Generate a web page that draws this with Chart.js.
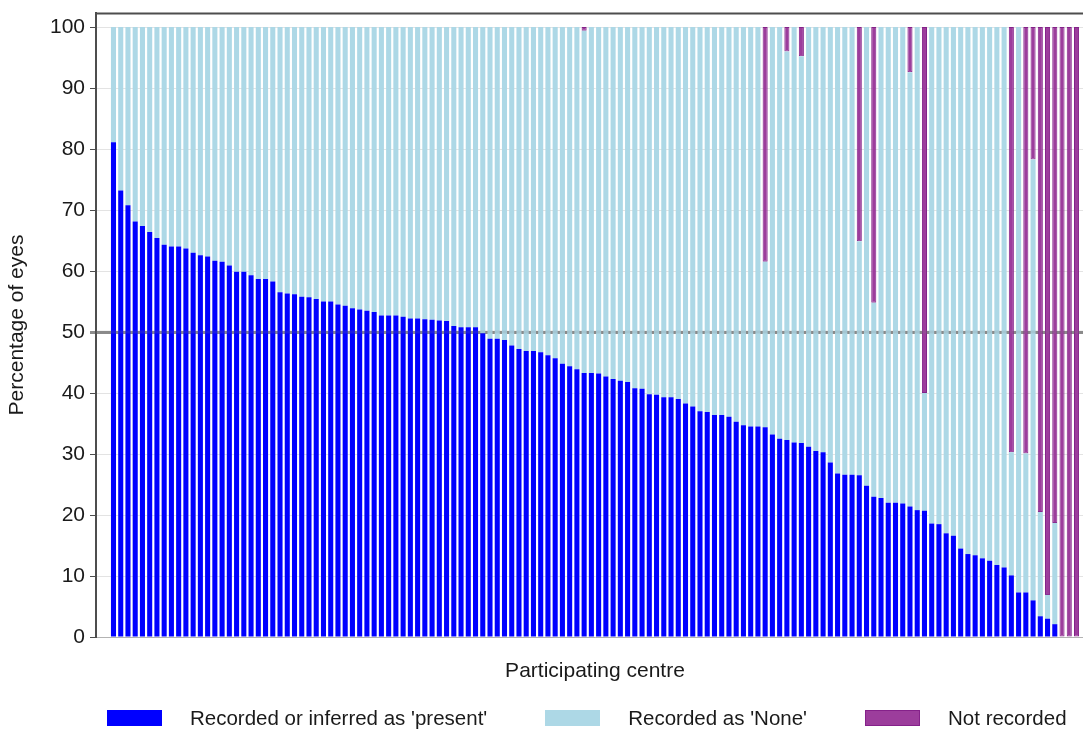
<!DOCTYPE html>
<html>
<head>
<meta charset="utf-8">
<title>Percentage of eyes by participating centre</title>
<script src="https://cdn.jsdelivr.net/npm/chart.js@4.4.0/dist/chart.umd.min.js"></script>
<style>
    html, body { margin: 0; padding: 0; background: #fff; overflow: hidden; }
    #wrap { position: relative; width: 1094px; height: 729px; }
    .legend {
        position: absolute; left: 107px; top: 706px;
        display: flex; align-items: center;
        font: 20.5px "Liberation Sans", Arial, sans-serif; color: #1a1a1a;
        white-space: nowrap;
    }
    .legend .item { display: flex; align-items: center; margin-right: 58px; }
    .legend .box { width: 55px; height: 16px; margin-right: 28px; box-sizing: border-box; }
</style>
</head>
<body>
<div id="wrap">
    <canvas id="chart"></canvas>
    <div class="legend" id="legend"></div>
</div>
<script>
// one bar per participating centre, sorted by share recorded as present
const centres = Array.from({ length: 134 }, (_, i) => i + 1)

const presentPct = [
    81.1, 73.2, 70.8, 68.1, 67.4, 66.4, 65.4, 64.3, 64.0, 64.0,
    63.7, 63.0, 62.6, 62.4, 61.7, 61.5, 60.9, 59.9, 59.9, 59.3,
    58.7, 58.7, 58.3, 56.5, 56.3, 56.2, 55.8, 55.7, 55.4, 55.0,
    55.0, 54.5, 54.3, 53.9, 53.7, 53.5, 53.3, 52.7, 52.7, 52.7,
    52.5, 52.2, 52.2, 52.1, 52.0, 51.9, 51.8, 51.0, 50.8, 50.8,
    50.8, 49.8, 48.9, 48.9, 48.7, 47.8, 47.2, 46.9, 46.9, 46.7,
    46.2, 45.7, 44.8, 44.4, 43.9, 43.3, 43.3, 43.2, 42.7, 42.3,
    42.0, 41.8, 40.8, 40.7, 39.8, 39.7, 39.3, 39.3, 39.0, 38.3,
    37.8, 37.0, 36.9, 36.4, 36.4, 36.1, 35.3, 34.7, 34.5, 34.5,
    34.4, 33.2, 32.5, 32.3, 31.9, 31.8, 31.2, 30.5, 30.3, 28.6,
    26.8, 26.6, 26.6, 26.5, 24.8, 23.0, 22.8, 22.0, 22.0, 21.9,
    21.4, 20.8, 20.7, 18.6, 18.5, 17.0, 16.6, 14.5, 13.6, 13.4,
    12.9, 12.5, 11.8, 11.4, 10.1, 7.3, 7.3, 6.0, 3.4, 3.0,
    2.1, 0, 0, 0
]

const nonePct = [
    18.9, 26.8, 29.2, 31.9, 32.6, 33.6, 34.6, 35.7, 36.0, 36.0,
    36.3, 37.0, 37.4, 37.6, 38.3, 38.5, 39.1, 40.1, 40.1, 40.7,
    41.3, 41.3, 41.7, 43.5, 43.7, 43.8, 44.2, 44.3, 44.6, 45.0,
    45.0, 45.5, 45.7, 46.1, 46.3, 46.5, 46.7, 47.3, 47.3, 47.3,
    47.5, 47.8, 47.8, 47.9, 48.0, 48.1, 48.2, 49.0, 49.2, 49.2,
    49.2, 50.2, 51.1, 51.1, 51.3, 52.2, 52.8, 53.1, 53.1, 53.3,
    53.8, 54.3, 55.2, 55.6, 56.1, 56.1, 56.7, 56.8, 57.3, 57.7,
    58.0, 58.2, 59.2, 59.3, 60.2, 60.3, 60.7, 60.7, 61.0, 61.7,
    62.2, 63.0, 63.1, 63.6, 63.6, 63.9, 64.7, 65.3, 65.5, 65.5,
    27.1, 66.8, 67.5, 63.7, 68.1, 63.4, 68.8, 69.5, 69.7, 71.4,
    73.2, 73.4, 73.4, 38.4, 75.2, 31.8, 77.2, 78.0, 78.0, 78.1,
    71.2, 79.2, 19.3, 81.4, 81.5, 83.0, 83.4, 85.5, 86.4, 86.6,
    87.1, 87.5, 88.2, 88.6, 20.2, 92.7, 22.8, 72.3, 17.1, 3.9,
    16.6, 0, 0, 0
]

const notRecordedPct = [
    null, null, null, null, null, null, null, null, null, null,
    null, null, null, null, null, null, null, null, null, null,
    null, null, null, null, null, null, null, null, null, null,
    null, null, null, null, null, null, null, null, null, null,
    null, null, null, null, null, null, null, null, null, null,
    null, null, null, null, null, null, null, null, null, null,
    null, null, null, null, null, 0.6, null, null, null, null,
    null, null, null, null, null, null, null, null, null, null,
    null, null, null, null, null, null, null, null, null, null,
    38.5, null, null, 4.0, null, 4.8, null, null, null, null,
    null, null, null, 35.1, null, 45.2, null, null, null, null,
    7.4, null, 60.0, null, null, null, null, null, null, null,
    null, null, null, null, 69.7, null, 69.9, 21.7, 79.5, 93.1,
    81.3, 100, 100, 100
]

const percentTicks = [0, 10, 20, 30, 40, 50, 60, 70, 80, 90, 100]

const textFont = { family: '"Liberation Sans", Arial, sans-serif', size: 21 }
const textColor = '#1a1a1a'
const axisColor = '#4d4d4d'
// empty space either side of the first and last centre, in bar slots
const edgePad = 2.415

const isHalfway = c => c.tick && c.tick.value === 50

// dark frame line along the top, and a faint 50% line laid over the bars
const frameLines = {
    id: 'frameLines',
    afterDatasetsDraw(chart) {
        const { ctx, chartArea, scales } = chart
        const y50 = scales.y.getPixelForValue(50)
        ctx.save()
        ctx.strokeStyle = 'rgba(128, 128, 128, 0.2)'
        ctx.lineWidth = 3
        ctx.beginPath()
        ctx.moveTo(chartArea.left, y50)
        ctx.lineTo(chartArea.right, y50)
        ctx.stroke()
        ctx.restore()
    },
    afterDraw(chart) {
        const { ctx, chartArea } = chart
        ctx.save()
        ctx.strokeStyle = axisColor
        ctx.lineWidth = 2
        ctx.beginPath()
        ctx.moveTo(chartArea.left - 1, chartArea.top + 0.5)
        ctx.lineTo(chartArea.right, chartArea.top + 0.5)
        ctx.stroke()
        ctx.restore()
    }
}

const chart = new Chart(document.getElementById('chart'), {
    type: 'bar',
    data: {
        labels: centres,
        datasets: [{
            label: "Recorded or inferred as 'present'",
            data: presentPct,
            backgroundColor: '#0000FF',
            borderWidth: 0
        }, {
            label: "Recorded as 'None'",
            data: nonePct,
            backgroundColor: '#ADD8E6',
            borderWidth: 0
        }, {
            label: 'Not recorded',
            data: notRecordedPct,
            backgroundColor: '#9C3D9C',
            borderColor: '#85218A',
            borderWidth: 1,
            borderSkipped: false
        }]
    },
    options: {
        responsive: true,
        maintainAspectRatio: false,
        animation: false,
        layout: { padding: { top: 13, left: 0, right: 0, bottom: 0 } },
        datasets: {
            bar: { barPercentage: 0.7, categoryPercentage: 1.0 }
        },
        plugins: {
            legend: { display: false },
            tooltip: { enabled: false }
        },
        scales: {
            x: {
                type: 'linear',
                offset: false,
                stacked: true,
                min: 1 - edgePad,
                max: centres.length + edgePad,
                grid: { display: false, offset: false },
                ticks: { display: false },
                border: { color: '#b3b3b3', width: 1 },
                title: {
                    display: true,
                    text: 'Participating centre',
                    font: textFont,
                    color: textColor,
                    padding: { top: 0, bottom: 45 }
                },
                afterFit(scale) { scale.height = 92 }
            },
            y: {
                stacked: true,
                min: 0,
                max: 102.3,
                afterBuildTicks(scale) {
                    scale.ticks = percentTicks.map(value => ({ value }))
                },
                ticks: { font: textFont, color: textColor, padding: 5 },
                grid: {
                    color: c => isHalfway(c) ? '#8c8c8c' : '#e3e3e3',
                    lineWidth: c => isHalfway(c) ? 3 : 1,
                    tickLength: 6,
                    tickColor: c => isHalfway(c) ? '#8c8c8c' : axisColor,
                    tickWidth: c => isHalfway(c) ? 3 : 1
                },
                border: { color: axisColor, width: 2 },
                title: {
                    display: true,
                    text: 'Percentage of eyes',
                    font: textFont,
                    color: textColor,
                    padding: { top: 5, bottom: 0 }
                },
                afterFit(scale) {
                    scale.width = 96
                    // the 100 label sits below the top edge, no extra room needed
                    scale.paddingTop = 0
                    scale.paddingBottom = 0
                }
            }
        }
    },
    plugins: [frameLines]
})

// legend drawn as html under the plot
const legend = document.getElementById('legend')
chart.data.datasets.forEach(ds => {
    const item = document.createElement('div')
    item.className = 'item'
    const border = ds.borderWidth ? `border: 1px solid ${ds.borderColor};` : ''
    item.innerHTML = `
        <span class="box" style="background:${ds.backgroundColor};${border}"></span>
        <span>${ds.label}</span>
    `
    legend.appendChild(item)
})
</script>
</body>
</html>
